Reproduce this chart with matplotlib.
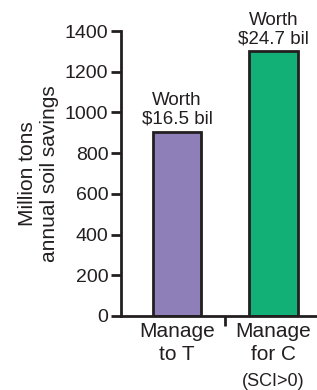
import matplotlib
matplotlib.use("Agg")
import matplotlib.pyplot as plt

plt.rcParams['font.family'] = ['Liberation Sans', 'DejaVu Sans']

# data
categories = ['Manage\nto T', 'Manage\nfor C']
sub_labels = ['', '(SCI>0)']
savings = [905, 1300]
worth = ['Worth\n$16.5 bil', 'Worth\n$24.7 bil']
colors = ['#8f7fb8', '#12b077']
yticks = [0, 200, 400, 600, 800, 1000, 1200, 1400]

ink = '#231f20'

fig = plt.figure(figsize=(3.17, 3.90), dpi=100)
ax = fig.add_axes([121 / 317, 74 / 390, 196 / 317, 285 / 390])

x = range(len(categories))
bars = ax.bar(x, savings, width=0.5, color=colors, edgecolor=ink, linewidth=2)

for b, txt in zip(bars, worth):
    ax.annotate(txt, xy=(b.get_x() + b.get_width() / 2, b.get_height()),
                xytext=(0, 3), textcoords='offset points', ha='center', va='bottom',
                fontsize=13.5, linespacing=1.1, color=ink)

for i, (cat, sub) in enumerate(zip(categories, sub_labels)):
    ax.annotate(cat, xy=(i, 0), xycoords=('data', 'axes fraction'),
                xytext=(0, -4), textcoords='offset points', ha='center', va='top',
                fontsize=15, linespacing=1.3, color=ink)
    if sub:
        ax.annotate(sub, xy=(i, 0), xycoords=('data', 'axes fraction'),
                    xytext=(0, -41), textcoords='offset points', ha='center', va='top',
                    fontsize=13, color=ink)

ax.set_xlim(-0.58, 1.45)
ax.set_ylim(0, 1400)
ax.set_yticks(yticks)
ax.set_yticklabels([str(v) for v in yticks], fontsize=14, color=ink)
ax.set_xticks([0.5])
ax.set_xticklabels([''])
ax.tick_params(axis='y', direction='out', length=7, width=2, color=ink, pad=2)
ax.tick_params(axis='x', direction='out', length=7, width=2, color=ink)

for s in ['top', 'right']:
    ax.spines[s].set_visible(False)
for s in ['left', 'bottom']:
    ax.spines[s].set_linewidth(2)
    ax.spines[s].set_color(ink)

ax.set_ylabel('Million tons\nannual soil savings', fontsize=15, linespacing=1.25,
              color=ink, labelpad=4)

fig.savefig('out.png', dpi=100)
